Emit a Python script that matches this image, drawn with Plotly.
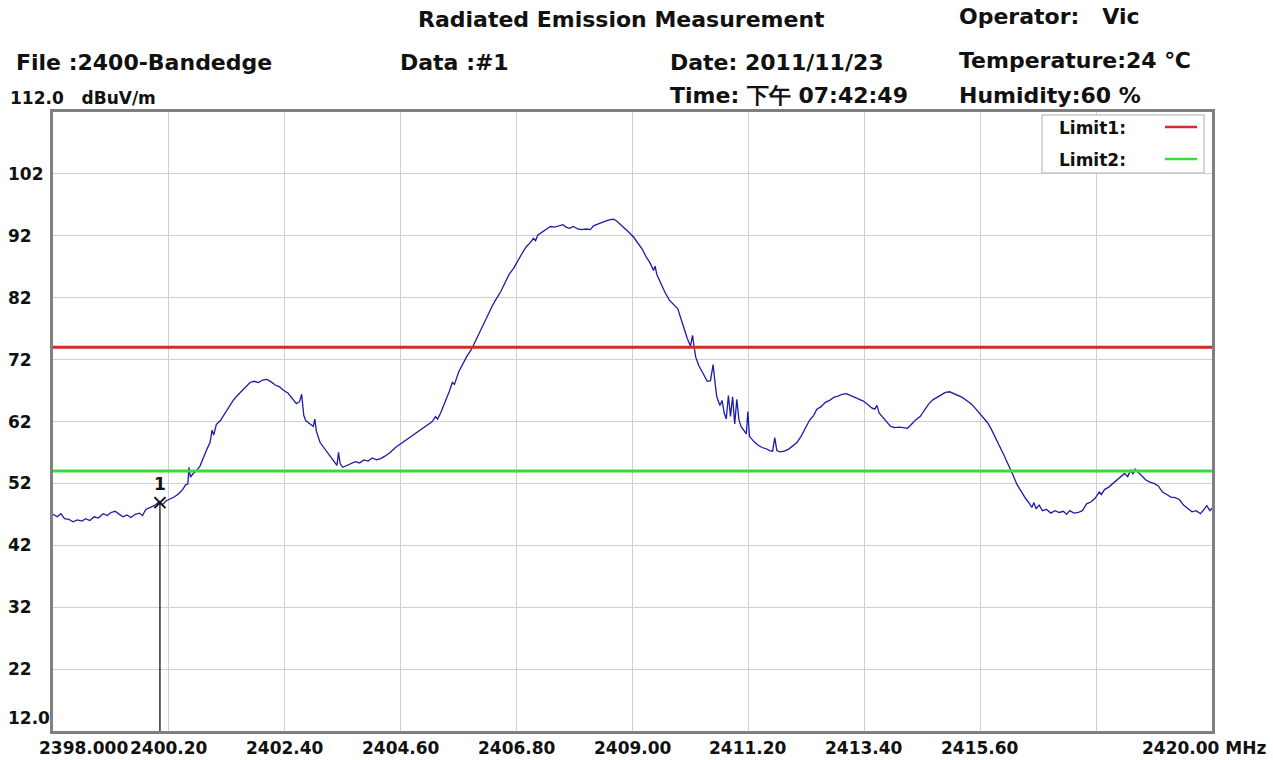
import plotly.graph_objects as go

# ---------------- data ----------------
freq_mhz = [
    2398.00, 2398.08, 2398.15, 2398.22, 2398.30, 2398.38, 2398.46, 2398.55, 2398.62, 2398.70,
    2398.78, 2398.86, 2398.95, 2399.03, 2399.10, 2399.18, 2399.26, 2399.33, 2399.40, 2399.48,
    2399.56, 2399.64, 2399.70, 2399.76, 2399.84, 2399.92, 2400.00, 2400.08, 2400.15, 2400.22,
    2400.30, 2400.38, 2400.46, 2400.52, 2400.56, 2400.58, 2400.61, 2400.66, 2400.72, 2400.79,
    2400.86, 2400.92, 2400.98, 2401.02, 2401.05, 2401.10, 2401.18, 2401.26, 2401.34, 2401.42,
    2401.50, 2401.58, 2401.66, 2401.74, 2401.82, 2401.90, 2401.98, 2402.06, 2402.14, 2402.22,
    2402.30, 2402.38, 2402.46, 2402.54, 2402.62, 2402.68, 2402.72, 2402.76, 2402.80, 2402.88,
    2402.94, 2402.97, 2403.00, 2403.07, 2403.16, 2403.26, 2403.34, 2403.39, 2403.42, 2403.45,
    2403.50, 2403.58, 2403.66, 2403.74, 2403.82, 2403.90, 2403.98, 2404.06, 2404.14, 2404.22,
    2404.30, 2404.40, 2404.50, 2404.60, 2404.70, 2404.78, 2404.88, 2404.96, 2405.04, 2405.12,
    2405.20, 2405.26, 2405.30, 2405.36, 2405.44, 2405.52, 2405.58, 2405.62, 2405.70, 2405.78,
    2405.86, 2405.94, 2406.02, 2406.10, 2406.18, 2406.26, 2406.34, 2406.42, 2406.50, 2406.58,
    2406.66, 2406.74, 2406.82, 2406.90, 2406.98, 2407.06, 2407.12, 2407.16, 2407.20, 2407.28,
    2407.36, 2407.44, 2407.52, 2407.60, 2407.68, 2407.74, 2407.80, 2407.88, 2407.96, 2408.04,
    2408.12, 2408.20, 2408.26, 2408.34, 2408.42, 2408.50, 2408.58, 2408.64, 2408.70, 2408.78,
    2408.86, 2408.94, 2409.02, 2409.10, 2409.18, 2409.26, 2409.34, 2409.40, 2409.43, 2409.46,
    2409.54, 2409.62, 2409.70, 2409.78, 2409.86, 2409.92, 2409.98, 2410.04, 2410.10, 2410.14,
    2410.17, 2410.20, 2410.26, 2410.34, 2410.42, 2410.48, 2410.53, 2410.57, 2410.60, 2410.66,
    2410.70, 2410.74, 2410.78, 2410.82, 2410.86, 2410.90, 2410.94, 2410.98, 2411.02, 2411.06,
    2411.12, 2411.16, 2411.19, 2411.22, 2411.30, 2411.38, 2411.46, 2411.54, 2411.60, 2411.66,
    2411.70, 2411.74, 2411.80, 2411.88, 2411.96, 2412.04, 2412.12, 2412.20, 2412.28, 2412.36,
    2412.44, 2412.50, 2412.58, 2412.66, 2412.74, 2412.82, 2412.90, 2412.98, 2413.06, 2413.14,
    2413.22, 2413.30, 2413.38, 2413.46, 2413.54, 2413.60, 2413.64, 2413.68, 2413.76, 2413.84,
    2413.90, 2413.98, 2414.06, 2414.14, 2414.22, 2414.30, 2414.38, 2414.46, 2414.54, 2414.62,
    2414.70, 2414.78, 2414.86, 2414.94, 2415.02, 2415.10, 2415.18, 2415.26, 2415.34, 2415.42,
    2415.50, 2415.58, 2415.66, 2415.74, 2415.82, 2415.90, 2415.98, 2416.06, 2416.14, 2416.22,
    2416.30, 2416.38, 2416.46, 2416.54, 2416.58, 2416.62, 2416.66, 2416.72, 2416.78, 2416.86,
    2416.94, 2417.02, 2417.10, 2417.18, 2417.24, 2417.30, 2417.38, 2417.46, 2417.54, 2417.62,
    2417.70, 2417.78, 2417.86, 2417.90, 2417.96, 2418.04, 2418.12, 2418.20, 2418.28, 2418.34,
    2418.40, 2418.46, 2418.50, 2418.54, 2418.60, 2418.66, 2418.74, 2418.82, 2418.90, 2418.98,
    2419.06, 2419.14, 2419.22, 2419.30, 2419.38, 2419.46, 2419.54, 2419.62, 2419.70, 2419.78,
    2419.84, 2419.90, 2419.96, 2420.00,
]
level_dbuv = [
    47.0, 46.6, 47.1, 46.3, 46.2, 45.8, 46.1, 45.9, 46.3, 46.0,
    46.6, 46.4, 47.1, 46.8, 47.3, 47.5, 47.0, 46.6, 46.9, 46.5,
    47.0, 47.2, 46.8, 47.8, 48.1, 48.4, 48.9, 48.6, 49.2, 49.5,
    49.8, 50.3, 51.0, 51.8, 51.9, 54.6, 53.0, 53.6, 54.0, 54.8,
    56.4, 57.5, 58.6, 60.6, 59.8, 61.5, 62.2, 63.3, 64.4, 65.4,
    66.2, 66.9, 67.5, 68.3, 68.5, 68.3, 68.7, 68.8, 68.4, 67.9,
    67.6, 67.0, 66.6, 65.8, 64.9, 65.2, 66.4, 63.0, 62.1, 61.6,
    61.2, 62.4, 60.4, 58.6, 57.6, 56.4, 55.4, 54.9, 57.0, 55.2,
    54.6, 54.9, 55.1, 55.5, 55.3, 55.8, 55.6, 56.1, 55.8, 56.0,
    56.4, 57.0, 57.8, 58.4, 59.0, 59.4, 60.1, 60.5, 61.0, 61.5,
    62.0, 62.8, 62.4, 63.4, 65.0, 66.8, 68.3, 68.0, 70.0, 71.4,
    72.6, 73.6, 75.0, 76.6, 78.0, 79.4, 80.7, 81.9, 83.0, 84.4,
    85.8, 86.7, 88.0, 89.1, 90.2, 90.9, 91.6, 91.2, 92.1, 92.6,
    93.1, 93.5, 93.4, 93.6, 93.8, 93.4, 93.2, 93.5, 93.1, 93.0,
    93.1, 93.0, 93.6, 93.9, 94.2, 94.4, 94.6, 94.7, 94.4, 93.8,
    93.2, 92.5, 91.8, 90.8, 89.9, 88.6, 87.5, 86.4, 87.1, 85.8,
    84.2, 82.8, 81.6, 80.9, 80.2, 78.6, 76.8, 75.4, 74.2, 75.9,
    74.0, 72.4, 71.0, 69.8, 68.5, 68.6, 71.2, 68.0, 66.0, 64.6,
    65.4, 63.4, 62.4, 66.2, 62.8, 66.0, 61.6, 65.6, 62.3, 61.2,
    60.4, 60.0, 63.6, 59.6, 58.8, 58.2, 57.8, 57.6, 57.3, 57.2,
    59.4, 57.3, 57.1, 57.2, 57.5, 58.0, 58.6, 59.6, 60.9, 62.2,
    63.0, 64.0, 64.4, 65.1, 65.4, 65.9, 66.1, 66.4, 66.5, 66.2,
    66.0, 65.6, 65.3, 64.8, 64.2, 64.0, 64.6, 63.4, 62.6, 61.9,
    61.2, 61.0, 61.1, 61.0, 60.9, 61.6, 62.3, 62.8, 63.8, 64.8,
    65.5, 65.9, 66.3, 66.7, 66.8, 66.5, 66.3, 65.9, 65.4, 64.9,
    64.2, 63.4, 62.7, 61.8, 60.6, 59.3, 57.8, 56.4, 55.0, 53.4,
    51.8, 50.6, 49.6, 48.7, 48.1, 48.9, 47.9, 48.5, 47.6, 47.8,
    47.2, 47.6, 47.3, 47.5, 47.0, 47.6, 47.2, 47.3, 47.6, 48.7,
    49.0, 49.6, 50.6, 50.2, 51.0, 51.4, 52.0, 52.5, 53.2, 53.6,
    53.1, 54.2, 53.5, 54.3, 53.8, 53.3, 52.6, 52.2, 52.0, 51.6,
    50.6, 50.2, 49.8, 49.7, 49.4, 48.5, 47.9, 47.4, 47.6, 47.1,
    47.7, 48.4, 47.6, 48.0,
]

limit1_level = 74.0
limit2_level = 54.0
marker_freq = 2400.03
marker_level = 48.9
marker_label = "1"

x_min, x_max = 2398.0, 2420.0
y_min, y_max = 12.0, 112.0
x_grid = [2400.2, 2402.4, 2404.6, 2406.8, 2409.0, 2411.2, 2413.4, 2415.6, 2417.8]
x_labels = ["2398.000", "2400.20", "2402.40", "2404.60", "2406.80", "2409.00",
            "2411.20", "2413.40", "2415.60", "2420.00 MHz"]
x_label_pos = [2398.0, 2400.2, 2402.4, 2404.6, 2406.8, 2409.0, 2411.2, 2413.4, 2415.6, 2420.0]
y_grid = [22, 32, 42, 52, 62, 72, 82, 92, 102]
y_labels = ["12.0", "22", "32", "42", "52", "62", "72", "82", "92", "102"]
y_label_pos = [12, 22, 32, 42, 52, 62, 72, 82, 92, 102]

# ---------------- layout constants ----------------
W, H = 1273, 760
L, R, T, B = 53, 1212, 112, 731
PW, PH = R - L, B - T


def px(xp):
    return (xp - L) / PW


def py(yp):
    return (B - yp) / PH


HDR_FONT = dict(family="DejaVu Sans", size=22, color="#111111", weight="bold")
TICK_FONT = dict(family="DejaVu Sans", size=17, color="#111111", weight="bold")

fig = go.Figure()

fig.add_trace(go.Scatter(x=freq_mhz, y=level_dbuv, mode="lines",
                         line=dict(color="#1c1ca8", width=1.3), hoverinfo="skip"))
fig.add_trace(go.Scatter(x=[x_min, x_max], y=[limit1_level, limit1_level], mode="lines",
                         line=dict(color="#d42a2a", width=3), hoverinfo="skip"))
fig.add_trace(go.Scatter(x=[x_min, x_max], y=[limit2_level, limit2_level], mode="lines",
                         line=dict(color="#3ada3a", width=3), hoverinfo="skip"))
fig.add_trace(go.Scatter(x=[marker_freq, marker_freq], y=[y_min, marker_level], mode="lines",
                         line=dict(color="#111111", width=1.3), hoverinfo="skip"))
fig.add_trace(go.Scatter(x=[marker_freq], y=[marker_level], mode="markers+text",
                         marker=dict(symbol="x-thin", size=11, line=dict(color="#111111", width=2)),
                         text=[marker_label], textposition="top center",
                         textfont=dict(family="DejaVu Sans", size=17, color="#111111", weight="bold"),
                         hoverinfo="skip"))

annotations = []
for v, t in zip(x_label_pos, x_labels):
    if t == "2398.000":
        annotations.append(dict(x=px(37), xref="paper", xanchor="left", y=0, yref="paper",
                                yshift=-17, yanchor="middle", text=t, showarrow=False, font=TICK_FONT))
    elif t.endswith("MHz"):
        annotations.append(dict(x=px(1268), xref="paper", xanchor="right", y=0, yref="paper",
                                yshift=-17, yanchor="middle", text=t, showarrow=False, font=TICK_FONT))
    else:
        annotations.append(dict(x=v, xref="x", xanchor="center", y=0, yref="paper",
                                yshift=-17, yanchor="middle", text=t, showarrow=False, font=TICK_FONT))
for v, t in zip(y_label_pos, y_labels):
    annotations.append(dict(x=px(6), xref="paper", xanchor="left", y=v, yref="y",
                            yanchor="middle", yshift=13 if t == "12.0" else 0,
                            text=t, showarrow=False, font=TICK_FONT))

header = [
    ("Radiated Emission Measurement", 416, 20),
    ("Operator:&nbsp;&nbsp; Vic", 957, 16),
    ("File :2400-Bandedge", 14, 63),
    ("Data :#1", 398, 63),
    ("Date: 2011/11/23", 668, 63),
    ("Temperature:24 ℃", 957, 60),
    ("Time: 下午 07:42:49", 668, 95),
    ("Humidity:60 %", 957, 95),
]
for t, xp, yp in header:
    annotations.append(dict(x=px(xp), xref="paper", xanchor="left", y=py(yp), yref="paper",
                            yanchor="middle", text=t, showarrow=False, font=HDR_FONT))
annotations.append(dict(x=px(8), xref="paper", xanchor="left", y=py(98), yref="paper",
                        yanchor="middle", text="112.0&nbsp;&nbsp; dBuV/m", showarrow=False,
                        font=dict(family="DejaVu Sans", size=17, color="#111111", weight="bold")))

# legend box
for lbl, yp in (("Limit1:", 128), ("Limit2:", 160)):
    annotations.append(dict(x=px(1057), xref="paper", xanchor="left", y=py(yp), yref="paper",
                            yanchor="middle", text=lbl, showarrow=False,
                            font=dict(family="DejaVu Sans", size=17, color="#111111", weight="bold")))

shapes = [
    dict(type="rect", xref="paper", yref="paper", x0=px(1042), x1=px(1204), y0=py(173), y1=py(115),
         line=dict(color="#c8c8c8", width=1.5), fillcolor="white", layer="above"),
    dict(type="line", xref="paper", yref="paper", x0=px(1165), x1=px(1197), y0=py(127), y1=py(127),
         line=dict(color="#d42a2a", width=2.5), layer="above"),
    dict(type="line", xref="paper", yref="paper", x0=px(1165), x1=px(1197), y0=py(159), y1=py(159),
         line=dict(color="#3ada3a", width=2.5), layer="above"),
]

fig.update_layout(
    width=W, height=H,
    margin=dict(l=L, r=W - R, t=T, b=H - B),
    paper_bgcolor="white", plot_bgcolor="white",
    showlegend=False,
    annotations=annotations,
    shapes=shapes,
    xaxis=dict(range=[x_min, x_max], tickvals=x_grid, showticklabels=False, ticks="",
               showgrid=True, gridcolor="#cfcfcf", gridwidth=1, zeroline=False,
               showline=True, linecolor="#808080", linewidth=2.5, mirror=True, fixedrange=True),
    yaxis=dict(range=[y_min, y_max], tickvals=y_grid, showticklabels=False, ticks="",
               showgrid=True, gridcolor="#cfcfcf", gridwidth=1, zeroline=False,
               showline=True, linecolor="#808080", linewidth=2.5, mirror=True, fixedrange=True),
)

fig.write_html("out.html", config={"displayModeBar": False},
               post_script="document.body.style.margin='0';document.body.style.overflow='hidden';")
